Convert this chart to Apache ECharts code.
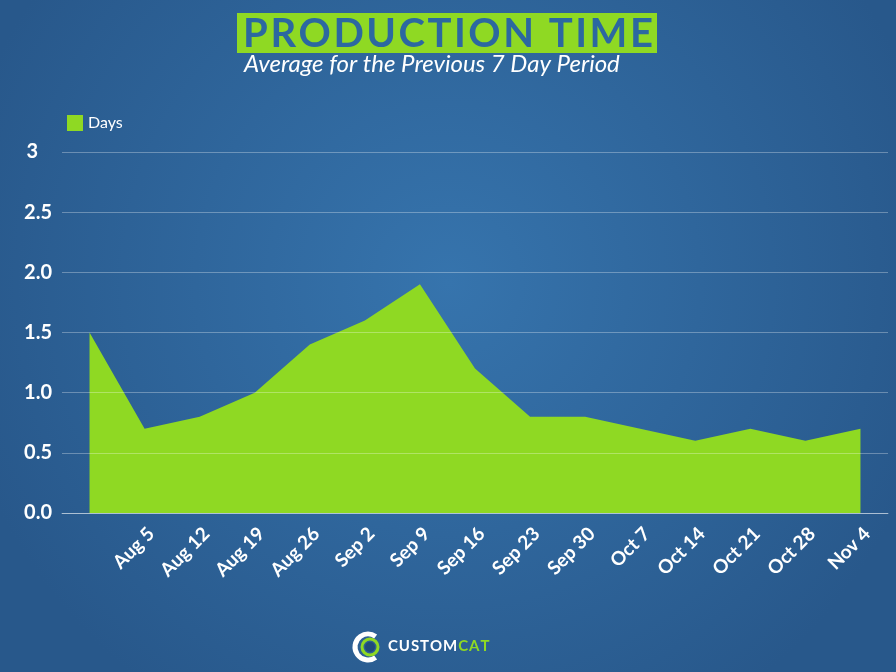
<!DOCTYPE html>
<html>
<head>
<meta charset="utf-8">
<script src="https://cdn.jsdelivr.net/npm/echarts@6/dist/echarts.min.js"></script>
<style>
  html,body{margin:0;padding:0;background:#2b5e93}
  #chart{width:896px;height:672px}
</style>
</head>
<body>
<div id="chart"></div>
<script>
/* Production time — weekly average, area chart */
const WEEKS = ["", "Aug 5", "Aug 12", "Aug 19", "Aug 26", "Sep 2", "Sep 9", "Sep 16",
               "Sep 23", "Sep 30", "Oct 7", "Oct 14", "Oct 21", "Oct 28", "Nov 4"];
const DAYS  = [1.5, 0.7, 0.8, 1.0, 1.4, 1.6, 1.9, 1.2, 0.8, 0.8, 0.7, 0.6, 0.7, 0.6, 0.7];
const Y_TICKS = {min:0, max:3, step:0.5};

const GREEN = "#8fd923", NAVY = "#2c68a0";
const FONT = "Lato, 'Open Sans', sans-serif";
const spaced = s => s.split("").join("\u200A");

const chart = echarts.init(document.getElementById("chart"));
chart.setOption({
  backgroundColor:{type:"radial",x:0.5,y:0.42,r:0.75,
    colorStops:[{offset:0,color:"#3674ad"},{offset:1,color:"#28588b"}]},
  textStyle:{fontFamily:FONT,color:"#fff"},
  animation:false,
  legend:{left:62,top:110,icon:"rect",itemWidth:16,itemHeight:16,itemGap:10,
    textStyle:{color:"#fff",fontSize:16,fontFamily:FONT}, data:["Days"]},
  grid:{left:62,right:8,top:152,bottom:159},
  xAxis:{type:"category",data:WEEKS,boundaryGap:true,
    axisLine:{show:true,lineStyle:{color:"rgba(255,255,255,.45)",width:1}},
    axisTick:{show:false},
    axisLabel:{rotate:45,interval:0,margin:11,verticalAlign:"top",align:"right",
      color:"#fff",fontSize:19,fontWeight:"bold",fontFamily:FONT}},
  yAxis:{type:"value",min:Y_TICKS.min,max:Y_TICKS.max,interval:Y_TICKS.step,z:5,
    axisLine:{show:false},axisTick:{show:false},
    splitLine:{lineStyle:{color:"rgba(255,255,255,.3)",width:1}},
    axisLabel:{margin:10,color:"#fff",fontSize:20,fontWeight:"bold",fontFamily:FONT,
      formatter:v=>v===3?"{a|3}":v.toFixed(1),
      rich:{a:{padding:[0,14,0,0],color:"#fff",fontSize:20,fontWeight:"bold",fontFamily:FONT}}}},
  series:[{name:"Days",type:"line",data:DAYS,symbol:"none",z:2,
    lineStyle:{width:0,color:GREEN},itemStyle:{color:GREEN},
    areaStyle:{color:GREEN,opacity:1}}],
  graphic:[
    {type:"rect",left:237,top:13,shape:{width:420,height:40},style:{fill:GREEN},z:10},
    {type:"text",left:"center",top:14,z:11,
      style:{text:spaced("PRODUCTION TIME"),fill:NAVY,font:`bold 40px ${FONT}`}},
    {type:"text",left:244,top:52,z:11,
      style:{text:"Average for the Previous 7 Day Period",fill:"#fff",font:`italic 24px ${FONT}`}},
    // logo
    {type:"arc",x:368,y:647,shape:{r:13,startAngle:Math.PI*0.3,endAngle:Math.PI*1.7},
      style:{stroke:"#fff",lineWidth:5,fill:null},z:10},
    {type:"circle",x:370,y:647,shape:{r:8},style:{fill:null,stroke:GREEN,lineWidth:3},z:10},
    {type:"circle",x:370,y:647,shape:{r:5},style:{fill:"#1f4a7a"},z:10},
    {type:"text",left:388,top:639,z:11,
      style:{text:"{w|"+spaced("CUSTOM")+"\u200A}{g|"+spaced("CAT")+"}",
        rich:{w:{fill:"#fff",font:`bold 15px ${FONT}`},g:{fill:GREEN,font:`bold 15px ${FONT}`}}}}
  ]
});
</script>
</body>
</html>
